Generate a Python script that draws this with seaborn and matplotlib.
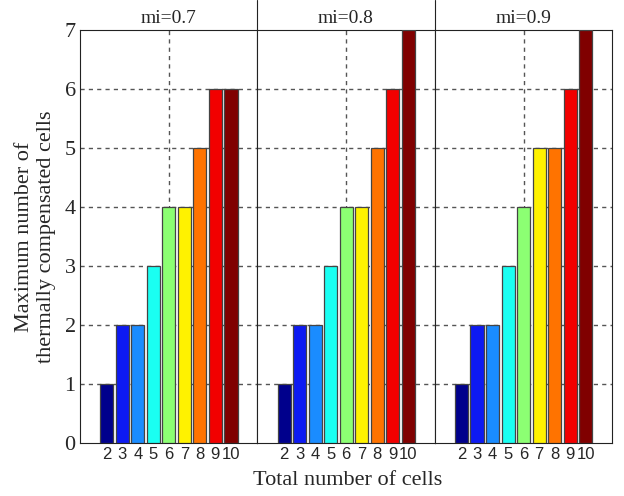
import matplotlib
matplotlib.use("Agg")
import matplotlib.pyplot as plt
import seaborn as sns
import pandas as pd
from matplotlib.lines import Line2D

# Data
cells = [2, 3, 4, 5, 6, 7, 8, 9, 10]
panel_titles = ["mi=0.7", "mi=0.8", "mi=0.9"]
max_comp_07 = [1, 2, 2, 3, 4, 4, 5, 6, 6]
max_comp_08 = [1, 2, 2, 3, 4, 4, 5, 6, 7]
max_comp_09 = [1, 2, 2, 3, 4, 5, 5, 6, 7]
series = [max_comp_07, max_comp_08, max_comp_09]

sns.set_style("white")
plt.rcParams["font.family"] = ["Liberation Serif", "DejaVu Serif"]

# jet-like colours as in the original figure
colors = ["#00008c", "#0d1af2", "#1a8cff", "#1afff2", "#8cff73",
          "#fff200", "#ff7300", "#f20000", "#800000"]
palette = dict(zip(cells, colors))

fig, axes = plt.subplots(1, 3, figsize=(6.24, 4.96), dpi=100, sharey=True)
fig.subplots_adjust(left=0.128, right=0.981, top=0.9395, bottom=0.107, wspace=0)

for ax, vals, title in zip(axes, series, panel_titles):
    df = pd.DataFrame({"cells": cells, "value": vals})
    sns.barplot(data=df, x="cells", y="value", hue="cells", palette=palette,
                native_scale=True, legend=False, width=0.85,
                edgecolor="#444444", linewidth=0.9, saturation=1, ax=ax, zorder=3)
    ax.set_xlim(0.27, 11.7)
    ax.set_ylim(0, 7)
    ax.set_xticks(cells)
    ax.set_xticklabels([str(c) for c in cells], family="Liberation Sans", fontsize=12)
    ax.tick_params(axis="x", length=0, pad=3)
    ax.set_yticks(range(0, 8))
    ax.tick_params(axis="y", length=0, labelsize=16, pad=3)
    # dashed grid
    for y in range(1, 7):
        ax.axhline(y, color="#555555", linestyle=(0, (3, 3)), linewidth=1.0, zorder=1)
    ax.axvline(6, color="#555555", linestyle=(0, (3, 3)), linewidth=1.0, zorder=1)
    ax.set_xlabel("")
    ax.set_ylabel("")
    ax.set_title(title, fontsize=14, pad=5)
    for s in ax.spines.values():
        s.set_visible(True)
        s.set_color("#222222")
        s.set_linewidth(0.8)

# separators reaching into the title strip
for ax in axes[1:]:
    pos = ax.get_position()
    fig.add_artist(Line2D([pos.x0, pos.x0], [pos.y1, 1.0], color="#222222", linewidth=0.8))

axes[0].set_ylabel("Maximum number of\nthermally compensated cells", fontsize=16, labelpad=6)
fig.text(0.557, 0.012, "Total number of cells", ha="center", va="bottom", fontsize=16)

fig.savefig("out.png", dpi=100)
